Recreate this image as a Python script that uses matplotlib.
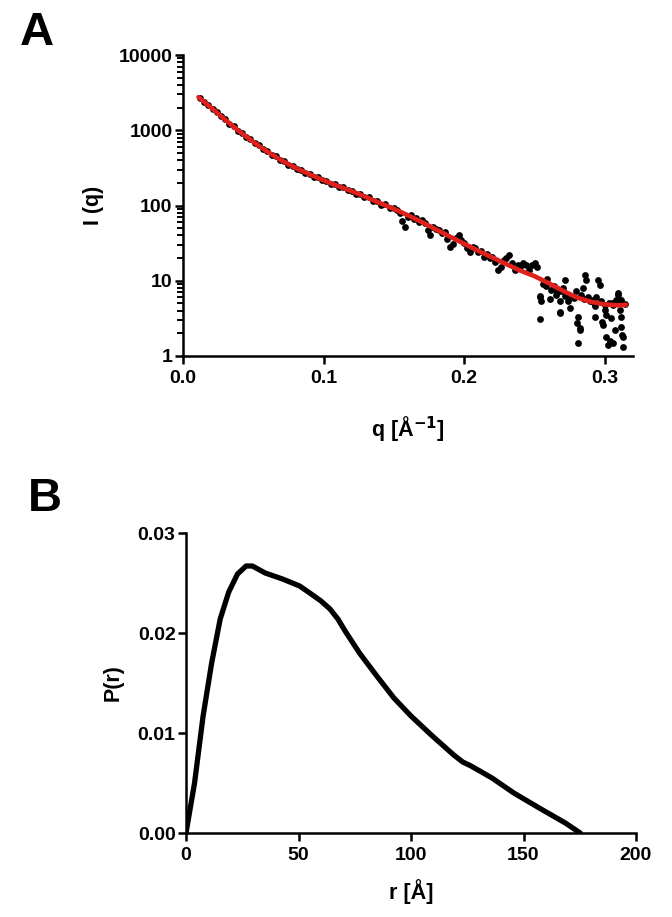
import matplotlib
matplotlib.use("Agg")
import matplotlib.pyplot as plt
from matplotlib import ticker

plt.rcParams['font.family'] = ['Liberation Sans', 'DejaVu Sans']
plt.rcParams['font.weight'] = 'bold'

# ---------------- Panel A data: SAXS scattering ----------------
q_data = [0.012, 0.015, 0.018, 0.021, 0.024, 0.027, 0.030, 0.033, 0.036, 0.039,
          0.042, 0.045, 0.048, 0.051, 0.054, 0.057, 0.060, 0.063, 0.066, 0.069,
          0.072, 0.075, 0.078, 0.081, 0.084, 0.087, 0.090, 0.093, 0.096, 0.099,
          0.102, 0.105, 0.108, 0.111, 0.114, 0.117, 0.120, 0.123, 0.126, 0.129,
          0.132, 0.135, 0.138, 0.141, 0.144, 0.147, 0.150,
          0.152, 0.154, 0.156, 0.158, 0.160, 0.162, 0.164, 0.166, 0.168, 0.170,
          0.172, 0.174, 0.176, 0.178, 0.180, 0.182, 0.184, 0.186, 0.188, 0.190,
          0.192, 0.194, 0.196, 0.198, 0.200, 0.202, 0.204, 0.206, 0.208, 0.210,
          0.212, 0.214, 0.216, 0.218, 0.220, 0.222, 0.224, 0.226, 0.228, 0.230,
          0.232, 0.234, 0.236, 0.238, 0.240, 0.242, 0.244, 0.246, 0.248, 0.250,
          0.252, 0.254,
          0.2537, 0.2549, 0.2537, 0.2560, 0.2580, 0.2590, 0.2608, 0.2620, 0.2630,
          0.2640, 0.2656, 0.2660, 0.2679, 0.2679, 0.2679, 0.2690, 0.2700, 0.2715,
          0.2720, 0.2739, 0.2751, 0.2751, 0.2770, 0.2780, 0.2798, 0.2800, 0.2810,
          0.2810, 0.2820, 0.2822, 0.2830, 0.2845, 0.2850, 0.2857, 0.2869, 0.2881,
          0.2893, 0.2900, 0.2920, 0.2928, 0.2930, 0.2940, 0.2952, 0.2964, 0.2970,
          0.2976, 0.2980, 0.2987, 0.2999, 0.3000, 0.3010, 0.3011, 0.3023, 0.3030,
          0.3035, 0.3047, 0.3050, 0.3058, 0.3060, 0.3070, 0.3082, 0.3094, 0.3094,
          0.3106, 0.3118, 0.3118, 0.3118, 0.3120, 0.3129, 0.3129, 0.3140]
I_data = [2700, 2380, 2170, 1900, 1750, 1530, 1400, 1225, 1130, 990,
          915, 810, 755, 670, 630, 560, 525, 472, 448, 400,
          386, 350, 336, 304, 296, 270, 264, 241, 236, 216,
          212, 194, 191, 175, 174, 159, 158, 143, 143, 128,
          129, 115, 115, 102, 104, 92, 92,
          88, 80, 62, 52, 70, 74, 66, 69, 61, 64,
          58, 47, 40, 52, 49, 47, 43, 44, 36, 28,
          31, 37, 40, 35, 32, 27, 24, 28, 27, 24,
          25, 21, 23, 20, 21, 18, 14, 15, 19, 20,
          22, 17, 14, 16, 15, 17, 16, 14, 16, 17,
          15, 6.2,
          6.1, 5.3, 3.1, 9.0, 8.4, 10.5, 5.8, 7.5, 7.8,
          8.6, 6.5, 7.0, 5.3, 3.9, 3.7, 7.2, 8.0, 10.2,
          6.2, 5.3, 6.1, 4.3, 6.0, 5.9, 7.2, 2.75, 3.3,
          1.5, 2.36, 2.2, 6.4, 7.9, 5.7, 11.9, 10.2, 6.1,
          5.3, 5.6, 5.0, 3.3, 4.6, 6.1, 10.2, 8.8, 5.2,
          5.3, 2.85, 2.6, 4.1, 4.7, 3.5, 1.8, 1.4, 5.1,
          1.6, 3.2, 5.0, 4.8, 1.5, 2.2, 5.5, 6.8, 6.5,
          4.1, 3.3, 2.45, 5.5, 1.9, 1.8, 1.33, 4.9]

q_fit = [0.011, 0.02, 0.03, 0.04, 0.05, 0.06, 0.07, 0.08, 0.09, 0.10,
         0.11, 0.12, 0.13, 0.14, 0.15, 0.16, 0.17, 0.18, 0.19, 0.20,
         0.21, 0.22, 0.23, 0.24, 0.25, 0.26, 0.27, 0.28, 0.29, 0.30,
         0.31, 0.315]
I_fit = [2754, 1995, 1380, 966, 700, 519, 398, 316, 260, 216,
         182, 155, 130, 108, 90, 74, 60, 48, 38.5, 31,
         25, 20.4, 16.6, 13.6, 11.5, 9.3, 7.4, 6.0, 5.25, 4.85,
         4.7, 4.8]

xticks_A = [0.0, 0.1, 0.2, 0.3]
xticklabels_A = ["0.0", "0.1", "0.2", "0.3"]
yticks_A = [1, 10, 100, 1000, 10000]
yticklabels_A = ["1", "10", "100", "1000", "10000"]

# ---------------- Panel B data: pair distance distribution ----------------
r_vals = [0, 3.8, 7.6, 11.4, 15.2, 19.0, 22.9, 26.7, 29.5, 35.2,
          42.9, 50.5, 55.0, 60.0, 64.0, 67.5, 71.0, 77.1, 84.8, 92.4,
          100.0, 109.5, 119.0, 123.0, 126.7, 136.0, 145.7, 157.0, 168.6, 175.2]
P_vals = [0.0, 0.0050, 0.0117, 0.0170, 0.0214, 0.0241, 0.0259, 0.0267, 0.0267, 0.0260,
          0.0254, 0.0247, 0.0240, 0.0232, 0.0224, 0.0214, 0.0201, 0.0180, 0.0157, 0.0135,
          0.0117, 0.0097, 0.0078, 0.0071, 0.0067, 0.0055, 0.0040, 0.0025, 0.0010, 0.0]

xticks_B = [0, 50, 100, 150, 200]
yticks_B = [0.00, 0.01, 0.02, 0.03]

# ---------------- Figure ----------------
W, H = 672, 917
fig = plt.figure(figsize=(W / 100, H / 100), dpi=100)

def px_axes(left, top, right, bottom):
    return fig.add_axes([left / W, 1 - bottom / H, (right - left) / W, (bottom - top) / H])

tick_fs = 14
label_fs = 15.5
lw_spine = 1.8

def style(ax):
    for s in ['top', 'right']:
        ax.spines[s].set_visible(False)
    for s in ['left', 'bottom']:
        ax.spines[s].set_linewidth(lw_spine)
    ax.tick_params(which='major', direction='out', length=6, width=lw_spine,
                   labelsize=tick_fs, pad=1.5)
    ax.tick_params(which='minor', direction='out', length=4, width=1.4)
    ax.tick_params(axis='x', which='major', pad=4)
    for lab in ax.get_xticklabels() + ax.get_yticklabels():
        lab.set_fontweight('bold')

# Panel A
axA = px_axes(183, 55, 633, 356)
axA.set_yscale('log')
axA.scatter(q_data, I_data, s=24, color='black', zorder=2, linewidths=0)
axA.plot(q_fit, I_fit, color='#e0201c', lw=3.3, zorder=3, solid_capstyle='round')
axA.set_xlim(0, 0.32)
axA.set_ylim(1, 10000)
axA.set_xticks(xticks_A)
axA.set_xticklabels(xticklabels_A)
axA.set_yticks(yticks_A)
axA.set_yticklabels(yticklabels_A)
axA.yaxis.set_minor_locator(ticker.LogLocator(base=10, subs=range(2, 10), numticks=20))
axA.yaxis.set_minor_formatter(ticker.NullFormatter())
style(axA)
axA.set_ylabel("I (q)", fontsize=label_fs, fontweight='bold')
axA.set_xlabel("q [Å$^{\\mathbf{-1}}$]", fontsize=label_fs, fontweight='bold')
axA.yaxis.set_label_coords(-0.175, 0.5)
axA.xaxis.set_label_coords(0.5, -0.195)

# Panel B
axB = px_axes(186, 533, 636, 833)
axB.plot(r_vals, P_vals, color='black', lw=3.8, solid_capstyle='round', solid_joinstyle='round')
axB.set_xlim(0, 200)
axB.set_ylim(0, 0.03)
axB.set_xticks(xticks_B)
axB.set_yticks(yticks_B)
axB.yaxis.set_major_formatter(ticker.FormatStrFormatter('%.2f'))
style(axB)
axB.set_ylabel("P(r)", fontsize=label_fs, fontweight='bold')
axB.set_xlabel("r [Å]", fontsize=label_fs, fontweight='bold')
axB.yaxis.set_label_coords(-0.138, 0.5)
axB.xaxis.set_label_coords(0.5, -0.155)

# Panel letters
fig.text(20 / W, 1 - 45 / H, "A", fontsize=34, fontweight='bold', ha='left', va='baseline')
fig.text(28 / W, 1 - 511 / H, "B", fontsize=34, fontweight='bold', ha='left', va='baseline')

fig.savefig("out.png", dpi=100)
